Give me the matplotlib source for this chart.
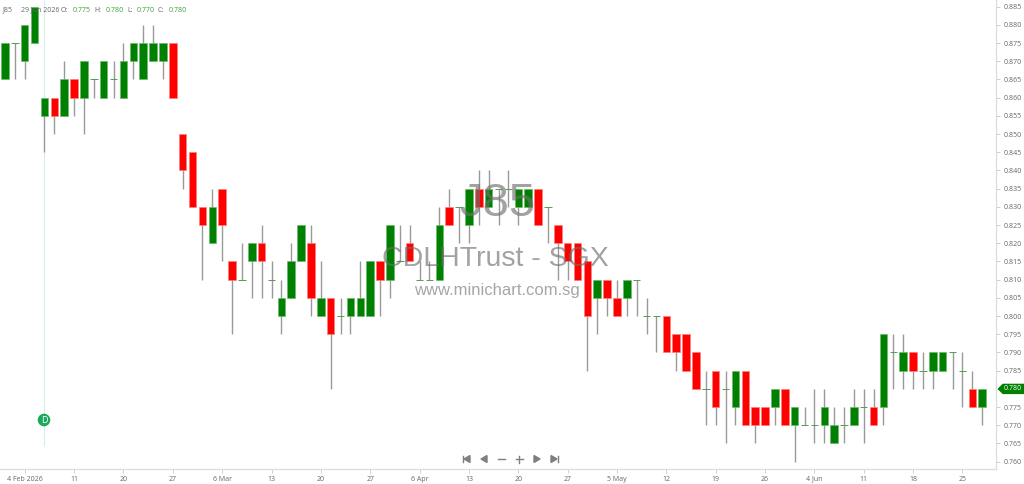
import numpy as np
import matplotlib
matplotlib.use("Agg")
import matplotlib.pyplot as plt
from matplotlib.patches import Circle, Polygon

# === data ===
opens = [
    .865, .875, .870, .875, .855, .860, .855, .865, .860, .865,
    .860, .865, .860, .870, .865, .870, .870, .875, .850, .845,
    .830, .820, .835, .815, .810, .815, .820, .810, .800, .805,
    .815, .820, .800, .805, .800, .800, .800, .800, .815, .810,
    .815, .820, .810, .810, .810, .830, .830, .825, .835, .830,
    .835, .835, .830, .830, .835, .830, .825, .820, .820, .815,
    .805, .810, .805, .805, .810, .800, .800, .800, .795, .795,
    .790, .780, .785, .780, .775, .785, .775, .775, .775, .780,
    .770, .770, .770, .770, .765, .770, .770, .775, .775, .775,
    .790, .785, .790, .785, .785, .785, .790, .785, .780, .775,
]
highs = [
    .875, .875, .880, .885, .860, .860, .870, .865, .870, .865,
    .870, .870, .875, .875, .880, .880, .875, .875, .850, .845,
    .830, .835, .835, .815, .820, .820, .825, .815, .810, .820,
    .825, .825, .815, .805, .805, .805, .815, .815, .815, .825,
    .825, .825, .815, .815, .830, .835, .830, .835, .840, .840,
    .835, .840, .835, .835, .835, .830, .825, .820, .820, .815,
    .810, .810, .810, .810, .810, .805, .800, .800, .795, .795,
    .790, .785, .785, .785, .785, .785, .775, .775, .780, .780,
    .775, .775, .780, .780, .775, .775, .780, .780, .780, .795,
    .795, .795, .790, .790, .790, .790, .790, .790, .785, .780,
]
lows = [
    .865, .865, .865, .875, .845, .850, .855, .855, .850, .860,
    .860, .860, .860, .865, .865, .870, .865, .860, .835, .830,
    .810, .820, .815, .795, .810, .805, .805, .805, .795, .805,
    .815, .800, .800, .780, .795, .795, .800, .800, .800, .805,
    .815, .815, .810, .810, .810, .825, .820, .820, .825, .830,
    .825, .830, .825, .830, .825, .820, .810, .810, .810, .785,
    .795, .800, .800, .800, .800, .795, .790, .790, .785, .785,
    .780, .770, .770, .765, .770, .770, .765, .770, .770, .770,
    .760, .770, .765, .765, .765, .765, .770, .765, .770, .770,
    .780, .780, .780, .780, .780, .785, .780, .775, .775, .770,
]
closes = [
    .875, .875, .880, .885, .860, .855, .865, .860, .870, .865,
    .870, .865, .870, .875, .875, .875, .875, .860, .840, .830,
    .825, .830, .825, .810, .810, .820, .815, .810, .805, .815,
    .825, .805, .805, .795, .800, .805, .805, .815, .810, .825,
    .815, .815, .810, .810, .825, .825, .830, .835, .830, .835,
    .835, .835, .835, .835, .825, .830, .820, .815, .810, .800,
    .810, .805, .800, .810, .810, .800, .800, .790, .790, .785,
    .780, .780, .775, .780, .785, .770, .770, .770, .780, .770,
    .775, .770, .770, .775, .770, .770, .775, .775, .770, .795,
    .790, .790, .785, .785, .790, .790, .790, .785, .775, .780,
]
price_ticks = [.760, .765, .770, .775, .780, .785, .790, .795, .800, .805, .810, .815, .820,
               .825, .830, .835, .840, .845, .850, .855, .860, .865, .870, .875, .880, .885]
date_labels = ["4 Feb 2026", "11", "20", "27", "6 Mar", "13", "20", "27", "6 Apr", "13",
               "20", "27", "5 May", "12", "19", "26", "4 Jun", "11", "18", "25"]
last_price = .780
marker_bar = 4

plt.rcParams['font.family'] = ['Open Sans', 'DejaVu Sans']

W, H = 1024, 484
fig = plt.figure(figsize=(W / 100, H / 100), dpi=100)
ax = fig.add_axes([0, (H - 469.3) / H, 996 / W, 469.3 / H])

GREEN = "#008000"
RED = "#ff0000"
GREY = "#999999"
LABEL = 5.0

x = np.arange(len(opens))
o, h, l, c = map(np.array, (opens, highs, lows, closes))

# crosshair of the dividend marker, behind everything
ax.vlines(x[marker_bar], .76431, .88684, color="#d3efe3", lw=0.8, zorder=1)

# wicks first, bodies on top
ax.vlines(x, l, h, color=GREY, lw=1.0, zorder=2)
up = c > o
down = c < o
flat = c == o
ax.bar(x[up], (c - o)[up], bottom=o[up], width=0.76, color=GREEN, edgecolor="#6fb86f", lw=0.5, zorder=3)
ax.bar(x[down], (o - c)[down], bottom=c[down], width=0.76, color=RED, edgecolor="#ff8080", lw=0.5, zorder=3)
ax.hlines(o[flat], x[flat] - 0.38, x[flat] + 0.38, color="#4f9f4f", lw=0.7, zorder=3)

ax.set_xlim(-0.507, 100.4)
ax.set_ylim(.75791, .88684)

ax.set_xticks(x[2::5])
ax.set_xticklabels(date_labels)
ax.set_yticks(price_ticks)
ax.set_yticklabels([f"{p:.3f}" for p in price_ticks])
ax.yaxis.tick_right()
ax.tick_params(axis='x', length=3, width=0.7, color="#cfcfcf", labelsize=LABEL, labelcolor="#666666", pad=1.5)
ax.tick_params(axis='y', length=3, width=0.7, color="#cfcfcf", labelsize=LABEL, labelcolor="#666666", pad=2.5)
for s in ("top", "left"):
    ax.spines[s].set_visible(False)
for s in ("right", "bottom"):
    ax.spines[s].set_color("#dcdcdc")
    ax.spines[s].set_linewidth(0.9)

# overlay in pixel coordinates for the chart furniture
ov = fig.add_axes([0, 0, 1, 1], zorder=5)
ov.set_xlim(0, W)
ov.set_ylim(H, 0)
ov.axis('off')
ov.patch.set_alpha(0)

ov.add_patch(Circle((44, 420), 5.6, color="#1aaa5c", zorder=2))
ov.text(44, 420.3, "D", color="white", fontsize=6.5, ha='center', va='center', zorder=3)

# watermark
wm = ['Liberation Sans', 'DejaVu Sans']
ov.text(497, 204, "J85", family=wm, fontsize=34, color="#707070", alpha=0.65, ha='center', va='center')
ov.text(495.5, 258.5, "CDLHTrust - SGX", family=wm, fontsize=20.5, color="#707070", alpha=0.65, ha='center', va='center')
ov.text(496.5, 290, "www.minichart.com.sg", family=wm, fontsize=12, color="#808080", alpha=0.7, ha='center', va='center')

# header line
for px, txt, col in [(3, "J85", "#666666"), (21, "29 Jun 2026", "#666666"), (61, "O:", "#666666"),
                     (73, "0.775", "#3aa03a"), (94, "H:", "#666666"), (106, "0.780", "#3aa03a"),
                     (127, "L:", "#666666"), (137, "0.770", "#3aa03a"), (158, "C:", "#666666"),
                     (169, "0.780", "#3aa03a")]:
    ov.text(px, 10, txt, color=col, fontsize=LABEL, ha='left', va='center')

# last price tag
ty = 6.7 + (.885 - last_price) / .005 * 18.2
ov.add_patch(Polygon([(998.5, ty), (1003, ty - 4.5), (1024, ty - 4.5), (1024, ty + 4.5), (1003, ty + 4.5)],
                     closed=True, color=GREEN, zorder=3))
ov.text(1003.5, ty, f"{last_price:.3f}", color="white", fontsize=LABEL, ha='left', va='center', zorder=4)

# navigation buttons
NAV = "#7f7f7f"
ny = 459
ov.plot([463, 463], [ny - 3, ny + 3], color=NAV, lw=1)
ov.add_patch(Polygon([(464, ny), (470, ny - 3.5), (470, ny + 3.5)], closed=True, color=NAV))
ov.add_patch(Polygon([(481, ny), (487, ny - 3.5), (487, ny + 3.5)], closed=True, color=NAV))
ov.plot([498, 505], [ny, ny], color=NAV, lw=1)
ov.plot([515.5, 522.5], [ny, ny], color=NAV, lw=1)
ov.plot([519, 519], [ny - 3.5, ny + 3.5], color=NAV, lw=1)
ov.add_patch(Polygon([(534, ny - 3.5), (534, ny + 3.5), (540, ny)], closed=True, color=NAV))
ov.add_patch(Polygon([(551, ny - 3.5), (551, ny + 3.5), (557, ny)], closed=True, color=NAV))
ov.plot([558, 558], [ny - 3, ny + 3], color=NAV, lw=1)

fig.savefig("out.png", dpi=100)
